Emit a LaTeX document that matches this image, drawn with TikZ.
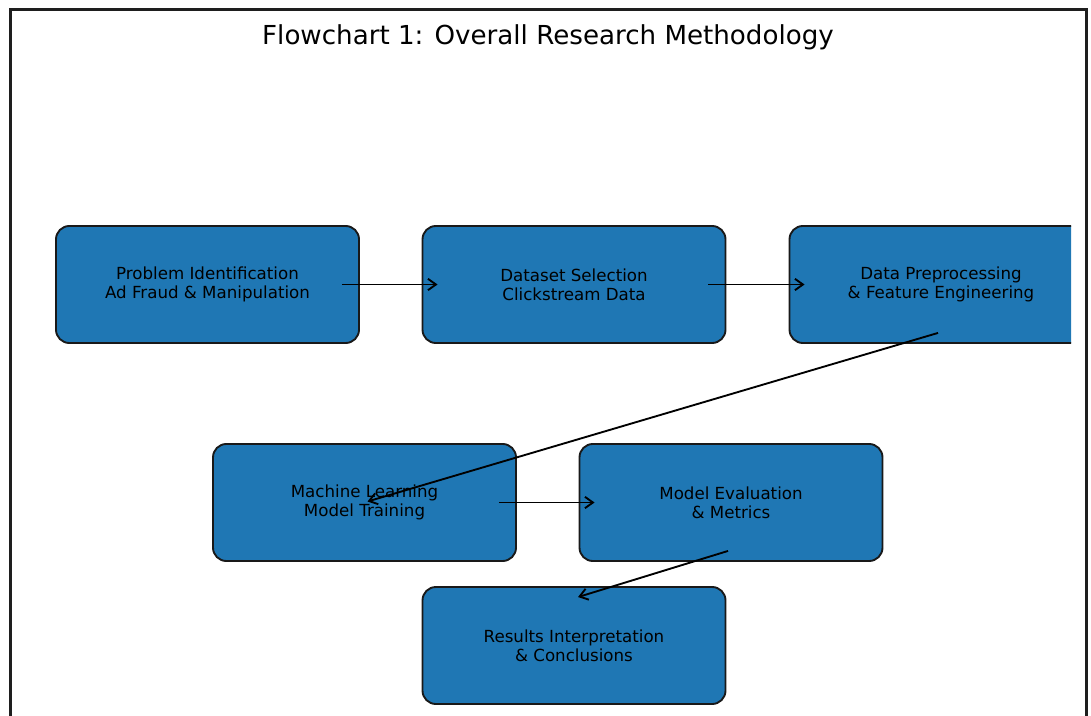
\documentclass[tikz,border=0pt]{standalone}
\usepackage{fontspec}
\setmainfont{DejaVu Sans}
\usepackage{xcolor}
\usetikzlibrary{arrows.meta, calc}

\definecolor{stageblue}{HTML}{1F77B4}
\definecolor{framegray}{HTML}{1E1E1E}

\tikzset{
  stage/.style={draw=black!90, line width=1.4pt, fill=stageblue, rounded corners=10pt,
    minimum width=227.25pt, minimum height=87.75pt, inner sep=0pt, align=center,
    font=\fontsize{12.5}{14.3}\selectfont},
  flow/.style={line width=1.4pt, black, -{Straight Barb[length=6pt,width=8.5pt]}}
}

\begin{document}
\begin{tikzpicture}[x=0.75pt, y=-0.75pt]
    \useasboundingbox (0,0) rectangle (1091,716);
    \draw[line width=2.6pt, framegray] (10.5,716) -- (10.5,9.5) -- (1086.5,9.5) -- (1086.5,716);
    \node (title) at (548,37.5) {\fontsize{19.6}{22}\selectfont Flowchart 1: Overall Research Methodology};
    \begin{scope}
      \clip (12,12) rectangle (1071,716);
      \node[stage] (p1) at (207.5,284.5) {Problem Identification\\Ad Fraud \& Manipulation};
      \node[stage] (p2) at (574,284.5) {Dataset Selection\\Clickstream Data};
      \node[stage] (p3) at (941,284.5) {Data Preprocessing\\\& Feature Engineering};
      \node[stage] (p4) at (364.5,502.5) {Machine Learning\\Model Training};
      \node[stage] (p5) at (731,502.5) {Model Evaluation\\\& Metrics};
      \node[stage] (p6) at (574,645.5) {Results Interpretation\\\& Conclusions};
    \end{scope}
    \draw[flow] ($(p1.east)+(-18,0)$) -- ($(p2.west)+(16,0)$);
    \draw[flow] ($(p2.east)+(-18,0)$) -- ($(p3.west)+(16,0)$);
    \draw[flow] ($(p3.south)+(-3,-11)$) -- ($(p4.center)+(3,-1)$);
    \draw[flow] ($(p4.east)+(-18,0)$) -- ($(p5.west)+(16,0)$);
    \draw[flow] ($(p5.south)+(-3,-11)$) -- ($(p6.north)+(4,11)$);
\end{tikzpicture}
\end{document}
